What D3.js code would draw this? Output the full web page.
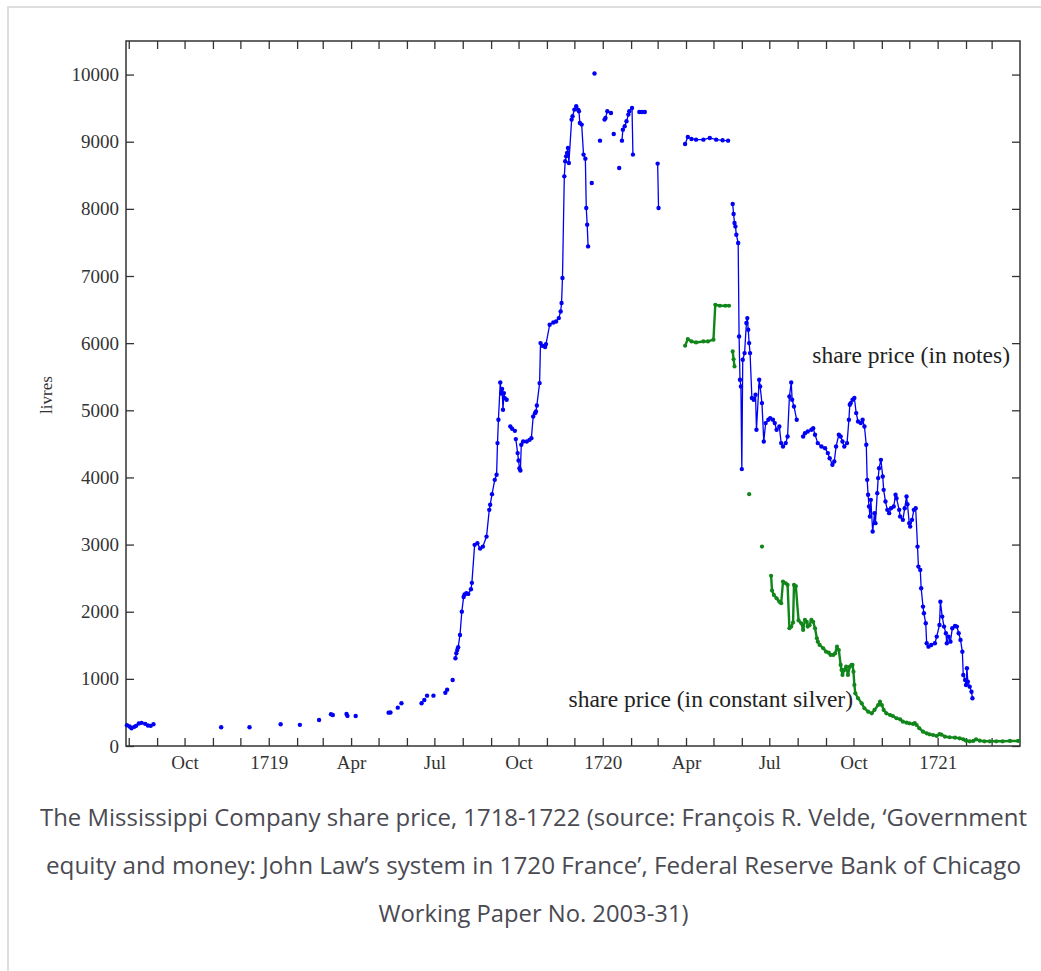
<!DOCTYPE html>
<html><head><meta charset="utf-8">
<script src="https://cdn.jsdelivr.net/npm/d3@7"></script>
<style>
html,body{margin:0;padding:0;background:#fff;}
svg{display:block;}
</style></head><body>
<svg id="chart" width="1041" height="971"></svg>
<script>
// ---------------- DATA ----------------
const notesDates = [
"1718-07-30","1718-08-02","1718-08-04","1718-08-07","1718-08-09","1718-08-12","1718-08-15","1718-08-19","1718-08-22","1718-08-25","1718-08-28",
"1718-11-10","1718-12-11","1719-01-14","1719-02-04","1719-02-25","1719-03-10","1719-03-12","1719-03-27","1719-03-28","1719-04-06",
"1719-05-12","1719-05-14","1719-05-22","1719-05-26","1719-06-17","1719-06-20","1719-06-23","1719-06-30","1719-07-13","1719-07-15","1719-07-21",
"1719-07-24","1719-07-25","1719-07-26","1719-07-27","1719-07-29","1719-07-31","1719-08-02","1719-08-03","1719-08-05","1719-08-07","1719-08-10","1719-08-11",
"1719-08-14","1719-08-17","1719-08-20","1719-08-23","1719-08-27","1719-08-30","1719-08-31","1719-09-02","1719-09-05","1719-09-07","1719-09-08","1719-09-09",
"1719-09-11","1719-09-12","1719-09-13","1719-09-14","1719-09-15","1719-09-16","1719-09-18",
"1719-09-22","1719-09-24","1719-09-27",
"1719-09-28","1719-09-30","1719-10-01","1719-10-02","1719-10-03","1719-10-04","1719-10-06","1719-10-10","1719-10-13","1719-10-15","1719-10-17","1719-10-19",
"1719-10-20","1719-10-21","1719-10-24","1719-10-25","1719-10-27","1719-10-30","1719-10-31","1719-11-04","1719-11-08","1719-11-11","1719-11-14","1719-11-16",
"1719-11-17","1719-11-18","1719-11-20","1719-11-21","1719-11-22","1719-11-23","1719-11-24","1719-11-25","1719-11-28","1719-11-29","1719-12-01","1719-12-03",
"1719-12-05","1719-12-06","1719-12-07","1719-12-09","1719-12-11","1719-12-13","1719-12-14","1719-12-15","1719-12-16",
"1719-12-20","1719-12-23","1719-12-29",
"1720-01-03","1720-01-04","1720-01-06","1720-01-10",
"1720-01-13","1720-01-19",
"1720-01-22","1720-01-23","1720-01-25","1720-01-27","1720-01-29","1720-01-30","1720-02-02","1720-02-03",
"1720-02-10","1720-02-13","1720-02-16",
"1720-03-01","1720-03-02",
"1720-03-31","1720-04-03","1720-04-07","1720-04-12","1720-04-20","1720-04-27","1720-05-04","1720-05-11","1720-05-17",
"1720-05-22","1720-05-23","1720-05-24","1720-05-25","1720-05-26","1720-05-28","1720-05-29","1720-05-30","1720-05-31","1720-06-01","1720-06-02","1720-06-04",
"1720-06-06","1720-06-07","1720-06-08","1720-06-09","1720-06-10","1720-06-12","1720-06-14","1720-06-16","1720-06-17","1720-06-20","1720-06-21","1720-06-23",
"1720-06-25","1720-06-27","1720-06-30","1720-07-02","1720-07-05","1720-07-07","1720-07-09","1720-07-12","1720-07-14","1720-07-16","1720-07-19","1720-07-21",
"1720-07-23","1720-07-25","1720-07-26","1720-07-28","1720-07-31",
"1720-08-07","1720-08-09","1720-08-12","1720-08-16","1720-08-18","1720-08-20","1720-08-23","1720-08-27","1720-08-31","1720-09-03","1720-09-05","1720-09-08",
"1720-09-10","1720-09-12","1720-09-15","1720-09-17","1720-09-19","1720-09-21","1720-09-24","1720-09-26","1720-09-27","1720-09-28","1720-09-30","1720-10-02",
"1720-10-04","1720-10-06","1720-10-09","1720-10-11","1720-10-13","1720-10-15","1720-10-16","1720-10-17","1720-10-18","1720-10-19","1720-10-20","1720-10-22",
"1720-10-24","1720-10-25","1720-10-27","1720-10-28","1720-10-29","1720-10-31","1720-11-02","1720-11-03","1720-11-05","1720-11-07","1720-11-09","1720-11-11",
"1720-11-14","1720-11-16","1720-11-17","1720-11-20","1720-11-21","1720-11-24","1720-11-26","1720-11-28","1720-11-29","1720-12-01","1720-12-02","1720-12-04",
"1720-12-06","1720-12-08","1720-12-10","1720-12-11","1720-12-13","1720-12-14","1720-12-16","1720-12-17","1720-12-19","1720-12-20","1720-12-22","1720-12-25",
"1720-12-29","1720-12-31","1721-01-03","1721-01-04","1721-01-06","1721-01-08","1721-01-10","1721-01-11","1721-01-13","1721-01-15","1721-01-17","1721-01-20",
"1721-01-22","1721-01-24","1721-01-26","1721-01-28","1721-01-29","1721-01-31","1721-02-01","1721-02-02","1721-02-03","1721-02-05","1721-02-07","1721-02-08"
];
const notesValues = [
310,290,265,285,300,335,345,330,305,300,325,
279,279,323,315,387,472,462,477,448,447,
497,500,571,636,636,686,750,750,794,839,984,
1307,1381,1430,1471,1654,2001,2220,2257,2275,2265,2335,2430,
2996,3021,2940,2970,3119,3517,3592,3751,3964,4039,4511,4858,
5414,5250,5316,5007,5256,5181,5156,
4759,4724,4694,
4571,4362,4252,4138,4103,4486,4535,4535,4560,4585,4908,4957,
4982,5072,5405,6001,5961,5942,5986,6274,6308,6323,6373,6472,
6597,6970,8484,8708,8782,8832,8907,8684,9329,9379,9478,9528,
9478,9453,9279,9255,8808,8748,8013,7765,7441,
8385,10015,9016,
9329,9354,9453,9428,
9116,8609,
9016,9180,9230,9304,9404,9453,9503,8808,
9443,9443,9443,
8674,8013,
8967,9071,9041,9031,9031,9056,9031,9021,9016,
8073,7924,7789,7739,7615,7492,6100,5455,5355,4124,5753,5852,
6300,6373,6200,6001,5852,5182,5156,5231,4709,5455,5355,5107,
4535,4809,4858,4883,4858,4809,4709,4759,4511,4461,4511,4609,
5206,5414,5156,5057,4858,
4609,4659,4684,4709,4734,4635,4511,4461,4436,4362,4285,4188,
4237,4461,4635,4610,4535,4461,4511,4858,5082,5107,5156,5182,
4958,4833,4809,4858,4759,4486,3964,3741,3567,3418,3666,3194,
3468,3319,3766,3990,4138,4262,4013,3815,3641,3517,3468,3542,
3567,3741,3691,3517,3418,3368,3542,3715,3600,3319,3268,3368,
3517,3542,2970,2672,2623,2350,2076,1977,1828,1530,1480,1505,
1530,1629,1803,2150,1927,1778,1679,1530,1629,1554,1754,1788,
1778,1679,1580,1405,1058,984,909,1158,958,884,809,711
];
// first date of every unbroken piece of the notes line
const notesSegmentStarts = [
"1718-07-30","1718-11-10","1718-12-11","1719-01-14","1719-02-04","1719-02-25","1719-03-10","1719-03-27","1719-04-06",
"1719-05-12","1719-05-22","1719-05-26","1719-06-17","1719-06-23","1719-06-30","1719-07-13","1719-07-21","1719-07-24",
"1719-09-22","1719-09-28","1719-12-20","1719-12-23","1719-12-29","1720-01-03","1720-01-13","1720-01-19","1720-01-22",
"1720-02-10","1720-03-01","1720-03-31","1720-05-22","1720-08-07"
];

const silverDates = [
"1720-03-31","1720-04-03","1720-04-07","1720-04-12","1720-04-20","1720-04-25","1720-05-01","1720-05-03","1720-05-08","1720-05-14","1720-05-18",
"1720-05-22","1720-05-23","1720-05-24",
"1720-06-09","1720-06-23",
"1720-07-03","1720-07-04","1720-07-06","1720-07-09","1720-07-12","1720-07-14","1720-07-16","1720-07-19","1720-07-21","1720-07-23","1720-07-25","1720-07-27",
"1720-07-28","1720-07-30","1720-08-02","1720-08-05","1720-08-07","1720-08-09","1720-08-11","1720-08-12","1720-08-14","1720-08-16","1720-08-18","1720-08-20",
"1720-08-22","1720-08-23","1720-08-25","1720-08-29","1720-09-01","1720-09-04","1720-09-06","1720-09-09","1720-09-11","1720-09-13","1720-09-15","1720-09-17",
"1720-09-18","1720-09-19","1720-09-21","1720-09-23","1720-09-25","1720-09-27","1720-09-29","1720-09-30","1720-10-01","1720-10-02","1720-10-03","1720-10-06",
"1720-10-10","1720-10-13","1720-10-17","1720-10-21","1720-10-24","1720-10-28","1720-10-30","1720-11-01","1720-11-03","1720-11-06","1720-11-10","1720-11-13",
"1720-11-17","1720-11-21","1720-11-24","1720-11-28","1720-12-01","1720-12-05","1720-12-07","1720-12-09","1720-12-12","1720-12-16","1720-12-20","1720-12-23",
"1720-12-27","1720-12-31","1721-01-03","1721-01-05","1721-01-09","1721-01-14","1721-01-20","1721-01-25","1721-01-29","1721-02-01","1721-02-05","1721-02-09",
"1721-02-12","1721-02-16","1721-02-21","1721-02-27","1721-03-06","1721-03-13","1721-03-21","1721-03-30"
];
const silverValues = [
5961,6061,6025,6010,6025,6025,6051,6572,6557,6557,6557,
5876,5760,5653,
3751,2970,
2536,2316,2250,2200,2150,2126,2449,2424,2399,1754,1778,1838,
2399,2380,1870,1828,1729,1878,1850,1778,1800,1878,1850,1754,
1605,1554,1505,1456,1405,1390,1356,1356,1381,1480,1430,1207,
1133,1058,1133,1182,1058,1182,1207,1207,1107,909,785,711,
636,562,511,486,537,611,660,610,537,486,462,447,
413,398,362,347,338,328,340,313,264,213,189,174,
164,149,179,170,139,130,124,115,100,79,70,75,
100,79,70,70,70,70,75,75
];
const silverSegmentStarts = ["1720-03-31","1720-05-22","1720-06-09","1720-06-23","1720-07-03"];

const yTickValues = [0,1000,2000,3000,4000,5000,6000,7000,8000,9000,10000];
const xLabelDates = ["1718-10-01","1719-01-01","1719-04-01","1719-07-01","1719-10-01","1720-01-01","1720-04-01","1720-07-01","1720-10-01","1721-01-01"];
const xLabels = ["Oct","1719","Apr","Jul","Oct","1720","Apr","Jul","Oct","1721"];
const yTitle = "livres";
const seriesLabels = ["share price (in notes)", "share price (in constant silver)"];
const captionLines = [
  "The Mississippi Company share price, 1718-1722 (source: Fran\u00e7ois R. Velde, \u2018Government",
  "equity and money: John Law\u2019s system in 1720 France\u2019, Federal Reserve Bank of Chicago",
  "Working Paper No. 2003-31)"
];

// ---------------- DRAW ----------------
const parse = d3.utcParse("%Y-%m-%d");
const svg = d3.select("#chart");
const W = 1041, H = 971;
const M = {left:126, right:1020, top:41, bottom:746};
const serif = "'Liberation Serif','Times New Roman',serif";
const COL_NOTES = "#0000f5", COL_SILVER = "#11861a";

svg.append("rect").attr("width",W).attr("height",H).attr("fill","#fff");
// page frame (light grey, top and left)
svg.append("path").attr("d",`M8,${H}V7H${W}`).attr("fill","none").attr("stroke","#dedede").attr("stroke-width",2);

const x = d3.scaleUtc().domain([parse("1718-07-29"), parse("1721-04-01")]).range([M.left, M.right]);
const y = d3.scaleLinear().domain([0,10500]).range([M.bottom, M.top]);

const monthTicks = d3.utcMonth.range(parse("1718-08-01"), parse("1721-04-01"));
const labelMap = new Map(xLabelDates.map((d,i)=>[+parse(d), xLabels[i]]));

function styleAxis(g){
  g.select(".domain").remove();
  g.selectAll(".tick line").attr("stroke","#333").attr("stroke-width",1.3);
  g.selectAll(".tick text").attr("fill","#333").style("font-family",serif).style("font-size","19px");
}

svg.append("g").attr("transform",`translate(0,${M.bottom})`)
  .call(d3.axisBottom(x).tickValues(monthTicks).tickSizeInner(-8).tickSizeOuter(0).tickPadding(10)
        .tickFormat(d => labelMap.get(+d) || ""))
  .call(styleAxis);
svg.append("g").attr("transform",`translate(0,${M.top})`)
  .call(d3.axisTop(x).tickValues(monthTicks).tickSizeInner(-8).tickSizeOuter(0).tickFormat(""))
  .call(styleAxis);
svg.append("g").attr("transform",`translate(${M.left},0)`)
  .call(d3.axisLeft(y).tickValues(yTickValues).tickSizeInner(-8).tickSizeOuter(0).tickPadding(7).tickFormat(d3.format("d")))
  .call(styleAxis);
svg.append("g").attr("transform",`translate(${M.right},0)`)
  .call(d3.axisRight(y).tickValues(yTickValues).tickSizeInner(-8).tickSizeOuter(0).tickFormat(""))
  .call(styleAxis);

// plot frame
svg.append("rect").attr("x",M.left).attr("y",M.top).attr("width",M.right-M.left).attr("height",M.bottom-M.top)
  .attr("fill","none").attr("stroke","#333").attr("stroke-width",1.5);

// y title
svg.append("text").attr("transform",`translate(52,395) rotate(-90)`).attr("text-anchor","middle")
  .style("font-family",serif).style("font-size","17px").attr("fill","#333").text(yTitle);

function buildSegments(dates, values, starts){
  const s = new Set(starts); const segs = []; let cur = null;
  dates.forEach((d,i)=>{
    if(!cur || s.has(d)){ cur = []; segs.push(cur); }
    cur.push({date: parse(d), value: values[i]});
  });
  return segs;
}
const line = d3.line().x(d=>x(d.date)).y(d=>y(d.value));

function drawSeries(segs, color, lw, r){
  const g = svg.append("g");
  g.selectAll("path").data(segs).join("path").attr("d",line)
    .attr("fill","none").attr("stroke",color).attr("stroke-width",lw).attr("stroke-linejoin","round");
  g.selectAll("circle").data(segs.flat()).join("circle")
    .attr("cx",d=>x(d.date)).attr("cy",d=>y(d.value)).attr("r",r).attr("fill",color);
}
drawSeries(buildSegments(silverDates, silverValues, silverSegmentStarts), COL_SILVER, 2.4, 2.1);
drawSeries(buildSegments(notesDates, notesValues, notesSegmentStarts), COL_NOTES, 1.3, 2.2);

// series labels
svg.append("text").attr("x",1010).attr("y",363).attr("text-anchor","end")
  .style("font-family",serif).style("font-size","23.5px").attr("fill","#222").text(seriesLabels[0]);
svg.append("text").attr("x",853).attr("y",707).attr("text-anchor","end")
  .style("font-family",serif).style("font-size","23.5px").attr("fill","#222").text(seriesLabels[1]);

// caption
const capW = [987, 975, 310];
captionLines.forEach((t,i)=>{
  svg.append("text").attr("x",533.5).attr("y",826 + i*48).attr("text-anchor","middle")
    .style("font-family","'Open Sans','Noto Sans',sans-serif").style("font-size","23px")
    .attr("fill","#4a4a52").attr("textLength",capW[i]).attr("lengthAdjust","spacingAndGlyphs").text(t);
});
</script>
</body></html>
